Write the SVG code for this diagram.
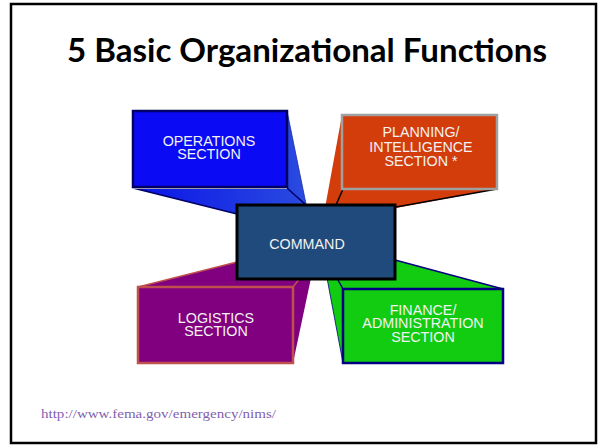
<svg xmlns="http://www.w3.org/2000/svg" width="600" height="445" viewBox="0 0 600 445">
<defs>
<style>
.lbl{font-family:"Liberation Sans",Arial,sans-serif;font-size:14.3px;fill:#F2F2F2;text-anchor:middle}
</style>
<linearGradient id="gOps" x1="0" y1="0" x2="1" y2="0">
<stop offset="0" stop-color="#0A14E8"/><stop offset="1" stop-color="#2A4BE0"/>
</linearGradient>
</defs>
<rect x="0" y="0" width="600" height="445" fill="#fff"/>
<rect x="11" y="4" width="585" height="439" fill="#fff" stroke="#000" stroke-width="2.5"/>
<text x="307" y="62" font-family="Lato,'Liberation Sans',sans-serif" font-weight="bold" font-size="32" text-anchor="middle" textLength="480" lengthAdjust="spacingAndGlyphs" fill="#000">5 Basic Organizational Functions</text>

<g id="connectors">
<!-- operations extrusion -->
<polygon points="133,188 287,188 287,111 306,204 306,214 237,214" fill="url(#gOps)"/>
<line x1="133" y1="188" x2="237" y2="214" stroke="#000066" stroke-width="1.5"/>
<line x1="287" y1="188" x2="306" y2="205" stroke="#000066" stroke-width="1.5"/>
<line x1="287" y1="111" x2="306" y2="204" stroke="#1a2a9a" stroke-width="0.8"/>
<!-- planning extrusion -->
<polygon points="342,115 342,189 497,189 396,208 325,208" fill="#D33C0B"/>
<line x1="343" y1="189" x2="336" y2="205" stroke="#000" stroke-width="1.5"/>
<line x1="497" y1="189" x2="396" y2="207" stroke="#000" stroke-width="1.5"/>
<!-- logistics extrusion -->
<polygon points="138,287 237,262 311,262 311,278 293,363 293,287" fill="#800080"/>
<line x1="138" y1="287" x2="237" y2="262" stroke="#C0504D" stroke-width="1.5"/>
<line x1="293" y1="287" x2="300" y2="278" stroke="#C0504D" stroke-width="1.5"/>
<!-- finance extrusion -->
<polygon points="343,289 343,363 327,278 395,260 503,289" fill="#11CC11"/>
<line x1="503" y1="289" x2="395" y2="260" stroke="#000080" stroke-width="1.5"/>
<line x1="343" y1="289" x2="338" y2="280" stroke="#000080" stroke-width="1.5"/>
<line x1="327" y1="278" x2="343" y2="363" stroke="#000080" stroke-width="0.8"/>
</g>

<g id="operations">
<rect x="133" y="111" width="154" height="76" fill="#0A0AF5" stroke="#000066" stroke-width="2.5"/>
<line x1="133" y1="188.5" x2="287" y2="188.5" stroke="#9a9ab0" stroke-width="1"/>
<text class="lbl" x="209" y="145.5">OPERATIONS</text>
<text class="lbl" x="209" y="159">SECTION</text>
</g>

<g id="planning">
<rect x="342" y="115" width="155" height="74" fill="#D33C0B" stroke="#A0A0A0" stroke-width="2.5"/>
<text class="lbl" x="421" y="137">PLANNING/</text>
<text class="lbl" x="421" y="152">INTELLIGENCE</text>
<text class="lbl" x="421" y="166">SECTION *</text>
</g>

<g id="logistics">
<rect x="138" y="287" width="155" height="76" fill="#800080" stroke="#C0504D" stroke-width="2.5"/>
<text class="lbl" x="216" y="322.7">LOGISTICS</text>
<text class="lbl" x="216" y="336">SECTION</text>
</g>

<g id="finance">
<rect x="343" y="289" width="160" height="74" fill="#11CC11" stroke="#000080" stroke-width="2.5"/>
<text class="lbl" x="423" y="315">FINANCE/</text>
<text class="lbl" x="423" y="328.3">ADMINISTRATION</text>
<text class="lbl" x="423" y="341.7">SECTION</text>
</g>

<g id="command">
<rect x="237" y="205" width="158" height="74" fill="#214A7C" stroke="#000" stroke-width="3"/>
<text class="lbl" x="307" y="249">COMMAND</text>
</g>

<text x="41" y="418" font-family="'Liberation Serif','Times New Roman',serif" font-size="11.5" fill="#7F5FB0" textLength="235" lengthAdjust="spacingAndGlyphs">http://www.fema.gov/emergency/nims/</text>
</svg>
